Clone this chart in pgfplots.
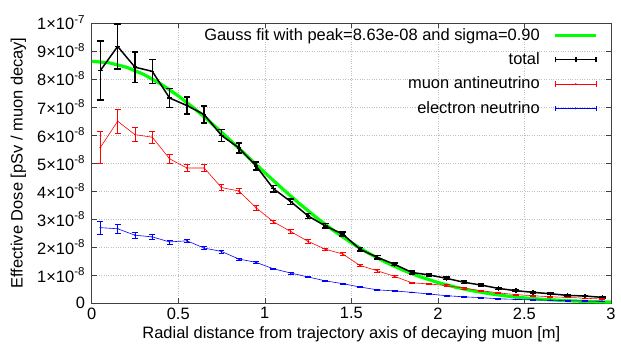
\documentclass[border=0pt]{standalone}
\usepackage{fontspec}
\setmainfont{Liberation Sans}
\usepackage{pgfplots}
\usepackage{pgfplotstable}
\pgfplotsset{compat=1.18}

\pgfplotstableread{
x y e
0.05 8.30 1.05
0.15 9.16 0.80
0.25 8.42 0.54
0.35 8.27 0.43
0.45 7.32 0.34
0.55 7.05 0.30
0.65 6.73 0.30
0.75 5.98 0.21
0.85 5.54 0.18
0.95 4.89 0.15
1.05 4.08 0.12
1.15 3.62 0.10
1.25 3.11 0.09
1.35 2.75 0.08
1.45 2.46 0.07
1.55 1.92 0.06
1.65 1.63 0.06
1.75 1.38 0.05
1.85 1.09 0.05
1.95 1.00 0.04
2.05 0.88 0.04
2.15 0.74 0.04
2.25 0.64 0.03
2.35 0.52 0.03
2.45 0.44 0.03
2.55 0.38 0.03
2.65 0.33 0.02
2.75 0.27 0.02
2.85 0.25 0.02
2.95 0.20 0.02
}\total

\pgfplotstableread{
x y e
0.05 5.55 0.58
0.15 6.49 0.42
0.25 6.01 0.25
0.35 5.92 0.22
0.45 5.15 0.17
0.55 4.82 0.12
0.65 4.82 0.12
0.75 4.12 0.10
0.85 4.00 0.10
0.95 3.40 0.10
1.05 2.90 0.07
1.15 2.55 0.07
1.25 2.20 0.06
1.35 1.92 0.05
1.45 1.75 0.05
1.55 1.34 0.04
1.65 1.15 0.04
1.75 0.95 0.04
1.85 0.72 0.03
1.95 0.68 0.03
2.05 0.62 0.03
2.15 0.53 0.03
2.25 0.44 0.02
2.35 0.36 0.02
2.45 0.30 0.02
2.55 0.26 0.02
2.65 0.22 0.02
2.75 0.20 0.01
2.85 0.17 0.01
2.95 0.14 0.01
}\muon

\pgfplotstableread{
x y e
0.05 2.69 0.22
0.15 2.65 0.15
0.25 2.42 0.10
0.35 2.36 0.08
0.45 2.18 0.07
0.55 2.22 0.06
0.65 1.96 0.05
0.75 1.84 0.05
0.85 1.57 0.04
0.95 1.45 0.04
1.05 1.22 0.03
1.15 1.07 0.03
1.25 0.93 0.03
1.35 0.79 0.02
1.45 0.69 0.02
1.55 0.57 0.02
1.65 0.47 0.02
1.75 0.43 0.02
1.85 0.38 0.01
1.95 0.32 0.01
2.05 0.26 0.01
2.15 0.22 0.01
2.25 0.19 0.01
2.35 0.15 0.01
2.45 0.13 0.01
2.55 0.11 0.01
2.65 0.10 0.01
2.75 0.08 0.01
2.85 0.07 0.01
2.95 0.06 0.01
}\electron

\pgfplotstableread{
x y
0.0 8.630
0.1 8.577
0.2 8.420
0.3 8.164
0.4 7.818
0.5 7.396
0.6 6.910
0.7 6.377
0.8 5.813
0.9 5.234
1.0 4.655
1.1 4.089
1.2 3.548
1.3 3.041
1.4 2.574
1.5 2.152
1.6 1.777
1.7 1.450
1.8 1.168
1.9 0.930
2.0 0.731
2.1 0.567
2.2 0.435
2.3 0.330
2.4 0.247
2.5 0.182
2.6 0.133
2.7 0.096
2.8 0.068
2.9 0.048
3.0 0.033
}\gauss

\pgfplotsset{
  errlegend/.style={legend image code/.code={
    \draw[##1,mark=none] (0pt,0pt)--(41pt,0pt);
    \draw[##1,mark=none] (0pt,-2.8pt)--(0pt,2.8pt) (41pt,-2.8pt)--(41pt,2.8pt);
    \draw[##1,only marks] plot coordinates {(20.5pt,0pt)};
  }},
  linelegend/.style={legend image code/.code={
    \draw[##1] (0pt,0pt)--(41pt,0pt);
  }},
}

\begin{document}
\fontsize{16.5}{19.5}\selectfont
\begin{tikzpicture}
\begin{axis}[
  name=main,
  scale only axis, width=521pt, height=281pt,
  xmin=0, xmax=3, ymin=0, ymax=10,
  xtick={0,0.5,1,1.5,2,2.5,3},
  xticklabels={0,0.5,1,1.5,2,2.5,3},
  ytick={0,1,...,10},
  yticklabels={0,1×10\textsuperscript{-8},2×10\textsuperscript{-8},3×10\textsuperscript{-8},4×10\textsuperscript{-8},5×10\textsuperscript{-8},6×10\textsuperscript{-8},7×10\textsuperscript{-8},8×10\textsuperscript{-8},9×10\textsuperscript{-8},1×10\textsuperscript{-7}},
  /pgf/number format/assume math mode=true,
  tick label style={font=\fontsize{16.5}{19.5}\selectfont},
  label style={font=\fontsize{16.5}{19.5}\selectfont},
  xticklabel style={yshift=1pt},
  yticklabel style={xshift=-1pt},
  xlabel={Radial distance from trajectory axis of decaying muon [m]},
  ylabel={Effective Dose [pSv / muon decay]},
  xlabel style={yshift=4pt},
  ylabel style={yshift=0pt},
  tick align=inside,
  major tick length=5pt,
  axis line style={black!75},
  every tick/.style={black!75},
  grid=major,
  grid style={dotted, gray!50},
  legend style={at={(1,1)}, anchor=north east, xshift=-10pt, yshift=-1pt,
    draw=none, fill=none, font=\fontsize{16.5}{19.5}\selectfont,
    row sep=6pt, column sep=12pt},
  legend plot pos=right,
  legend cell align=right,
  clip=false,
]
\addplot[green, line width=3.2pt, no markers, linelegend]
  table[x=x,y=y]{\gauss};
\addlegendentry{Gauss fit with peak=8.63e-08 and sigma=0.90}

\addplot[black, line width=1.5pt, mark=+, mark size=2.2pt, errlegend,
  error bars/.cd, y dir=both, y explicit,
  error bar style={line width=1.5pt},
  error mark options={rotate=90, mark size=3.3pt, line width=1.5pt}]
  table[x=x,y=y,y error=e]{\total};
\addlegendentry{total}

\addplot[red, line width=0.6pt, mark=*, mark size=0.5pt, errlegend,
  error bars/.cd, y dir=both, y explicit,
  error bar style={line width=0.6pt},
  error mark options={rotate=90, mark size=3pt, line width=0.6pt}]
  table[x=x,y=y,y error=e]{\muon};
\addlegendentry{muon antineutrino}

\addplot[blue, line width=0.6pt, mark=*, mark size=0.5pt, errlegend,
  error bars/.cd, y dir=both, y explicit,
  error bar style={line width=0.6pt},
  error mark options={rotate=90, mark size=3pt, line width=0.6pt}]
  table[x=x,y=y,y error=e]{\electron};
\addlegendentry{electron neutrino}
\end{axis}
\path (main.south west) ++(-92pt,-37pt) coordinate (bbsw);
\path (main.north east) ++(8pt,23pt) coordinate (bbne);
\useasboundingbox (bbsw) rectangle (bbne);
\end{tikzpicture}
\end{document}
